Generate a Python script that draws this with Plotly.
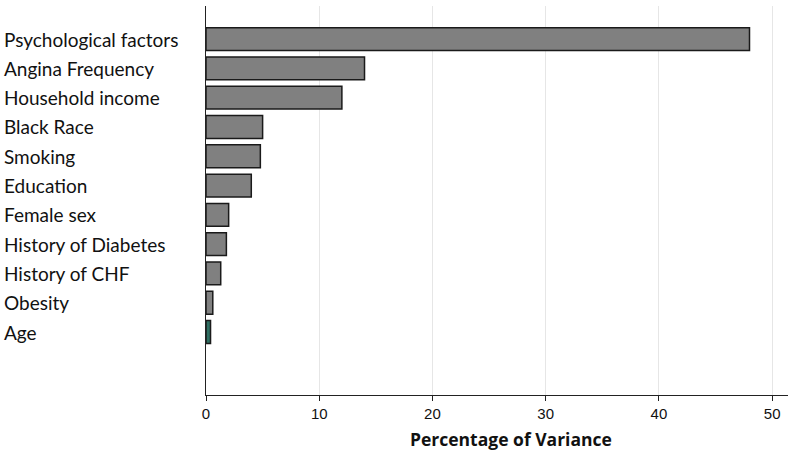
import plotly.graph_objects as go

factors = ["Psychological factors", "Angina Frequency", "Household income", "Black Race",
           "Smoking", "Education", "Female sex", "History of Diabetes", "History of CHF",
           "Obesity", "Age"]
variance = [48.0, 14.0, 12.0, 5.0, 4.8, 4.0, 2.0, 1.8, 1.3, 0.6, 0.4]
bar_colors = ["#808080"] * 10 + ["#2f6f62"]

fig = go.Figure()
fig.add_trace(go.Bar(
    x=variance, y=factors, orientation="h", width=0.78,
    marker=dict(color=bar_colors, line=dict(color="#1a1a1a", width=1.5)),
))

# left-aligned category labels
for f in factors:
    fig.add_annotation(x=-0.35, xref="paper", y=f, yref="y", text=f, showarrow=False,
                       xanchor="left", yanchor="middle",
                       font=dict(family="Lato, Liberation Sans", size=19, color="#111"))

# axis title, sits a bit right of centre in the original
fig.add_annotation(x=0.524, xref="paper", y=-0.113, yref="paper",
                   text="<b>Percentage of Variance</b>", showarrow=False,
                   xanchor="center", yanchor="middle",
                   font=dict(family="Open Sans, Liberation Sans", size=17.5, color="#111"))

fig.update_xaxes(range=[0, 51.4], tickvals=[0, 10, 20, 30, 40, 50],
                 showgrid=True, gridcolor="#e6e6e6", gridwidth=1,
                 showline=True, linecolor="#222", linewidth=1.2,
                 ticks="outside", ticklen=5, tickcolor="#222",
                 tickfont=dict(family="Liberation Sans, Arial", size=15, color="#111"),
                 zeroline=False)
fig.update_yaxes(categoryorder="array", categoryarray=factors, range=[12.15, -1.13],
                 showticklabels=False, showgrid=False, showline=True,
                 linecolor="#222", linewidth=1.2, ticks="")

fig.update_layout(width=800, height=455, plot_bgcolor="white", paper_bgcolor="white",
                  margin=dict(l=206, r=12, t=6, b=60), showlegend=False, bargap=0.2)

fig.write_html("out.html", config={"displayModeBar": False},
               post_script="document.body.style.margin='0';")
